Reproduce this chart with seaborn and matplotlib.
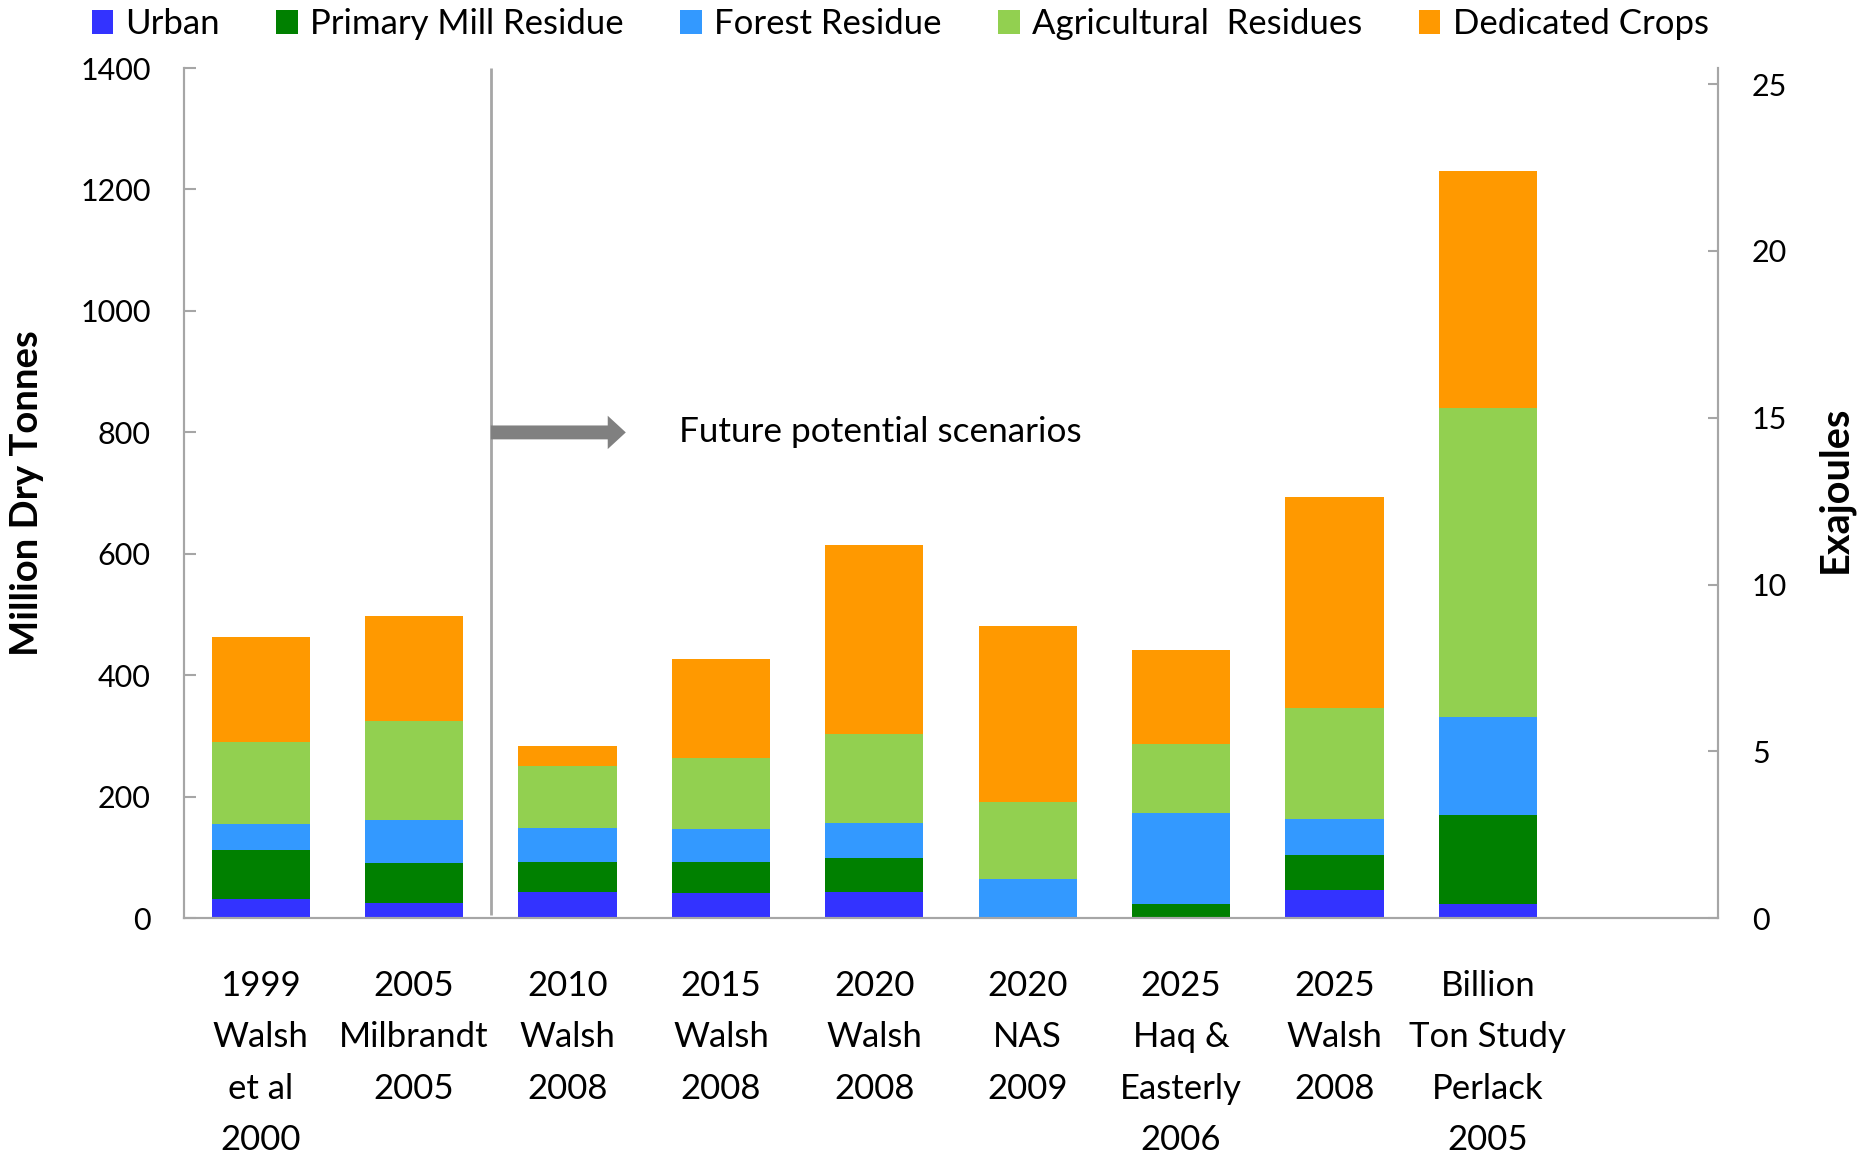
import numpy as np
import pandas as pd
import matplotlib
matplotlib.use("Agg")
import matplotlib.pyplot as plt
from matplotlib.patches import Patch
import seaborn as sns

# ---- data (million dry tonnes) ----
studies = [
    "1999\nWalsh\net al\n2000",
    "2005\nMilbrandt\n2005",
    "2010\nWalsh\n2008",
    "2015\nWalsh\n2008",
    "2020\nWalsh\n2008",
    "2020\nNAS\n2009",
    "2025\nHaq &\nEasterly\n2006",
    "2025\nWalsh\n2008",
    "Billion\nTon Study\nPerlack\n2005",
]
urban = [32, 26, 43, 41, 43, 0, 0, 47, 23]
primary_mill = [81, 65, 50, 52, 57, 0, 24, 57, 147]
forest = [42, 71, 56, 54, 57, 64, 149, 59, 161]
agricultural = [136, 163, 102, 117, 147, 128, 114, 183, 510]
dedicated = [172, 173, 32, 163, 310, 290, 155, 347, 389]

series_names = ["Urban", "Primary Mill Residue", "Forest Residue",
                "Agricultural  Residues", "Dedicated Crops"]
series_colors = ["#3333FF", "#008000", "#3399FF", "#92D050", "#FF9900"]

left_ticks = [0, 200, 400, 600, 800, 1000, 1200, 1400]
right_ticks = [0, 5, 10, 15, 20, 25]
EJ_PER_MT = 0.0182  # energy content, exajoules per million dry tonnes

# ---- style ----
sns.set_style("white")
plt.rcParams["font.family"] = ["Lato", "DejaVu Sans"]
plt.rcParams["text.color"] = "black"
plt.rcParams["axes.labelcolor"] = "black"
plt.rcParams["xtick.color"] = "black"
plt.rcParams["ytick.color"] = "black"

df = pd.DataFrame({
    "study": studies,
    "Urban": urban,
    "Primary Mill Residue": primary_mill,
    "Forest Residue": forest,
    "Agricultural  Residues": agricultural,
    "Dedicated Crops": dedicated,
})
cum = df[series_names].cumsum(axis=1)

fig = plt.figure(figsize=(18.64, 11.53), dpi=100)
ax = fig.add_axes([184 / 1864, 1 - 918.3 / 1153, 1534 / 1864, 850.3 / 1153])

# stacked bars: draw cumulative totals from the top layer down
for name, color in zip(series_names[::-1], series_colors[::-1]):
    sns.barplot(x=df["study"], y=cum[name], color=color, width=0.64,
                saturation=1, order=studies, ax=ax, linewidth=0)

ax.set_xlim(-0.5, 9.5)
ax.set_ylim(0, 1400)
ax.set_yticks(left_ticks)
ax.set_xlabel("")
ax.set_ylabel("Million Dry Tonnes", fontsize=27.5, fontweight="bold")
ax.yaxis.set_label_coords(-0.0915, 0.5)

spine_color = "#A6A6A6"
for s in ["left", "bottom", "right"]:
    ax.spines[s].set_color(spine_color)
    ax.spines[s].set_linewidth(1.5)
ax.spines["top"].set_visible(False)

ax.tick_params(axis="y", direction="in", length=8.5, width=1.5,
               color=spine_color, labelcolor="black", labelsize=22,
               pad=24, left=True)
ax.tick_params(axis="x", length=0, labelsize=25, pad=37, labelcolor="black")
plt.setp(ax.get_xticklabels(), linespacing=1.75)

# secondary energy axis
ax2 = ax.twinx()
ax2.set_ylim(0, 1400 * EJ_PER_MT)
ax2.set_yticks(right_ticks)
ax2.tick_params(axis="y", direction="in", length=7.5, width=1.5,
                color=spine_color, labelcolor="black", labelsize=22,
                pad=24.5, right=True)
for s in ["left", "bottom", "right"]:
    ax2.spines[s].set_color(spine_color)
    ax2.spines[s].set_linewidth(1.5)
ax2.spines["top"].set_visible(False)
ax2.set_ylabel("Exajoules", fontsize=28.5, fontweight="bold", rotation=90)
ax2.yaxis.set_label_coords(1.064, 0.505)
ax2.grid(False)
ax.grid(False)

# divider between past estimates and future scenarios
ax.plot([1.5, 1.5], [5, 1400], color=spine_color, linewidth=2,
        solid_capstyle="butt", zorder=3)
ax.annotate("", xy=(2.38, 800), xytext=(1.5, 800),
            arrowprops=dict(arrowstyle="simple,head_width=2.4,head_length=1.3,tail_width=1.0",
                            mutation_scale=10, color="#808080",
                            shrinkA=0, shrinkB=0, linewidth=0))
ax.text(2.727, 800, "Future potential scenarios", fontsize=25.3,
        va="center", ha="left", color="black")

# legend along the top
handles = [Patch(facecolor=c, edgecolor="none", label=n)
           for n, c in zip(series_names, series_colors)]
fig.legend(handles=handles, ncol=5, loc="center left",
           bbox_to_anchor=(91.5 / 1864, 1 - 24 / 1153), frameon=False,
           fontsize=25, handlelength=0.62, handleheight=0.7,
           handletextpad=0.36, columnspacing=1.62, borderpad=0,
           borderaxespad=0)

fig.savefig("out.png", dpi=100, facecolor="white")
